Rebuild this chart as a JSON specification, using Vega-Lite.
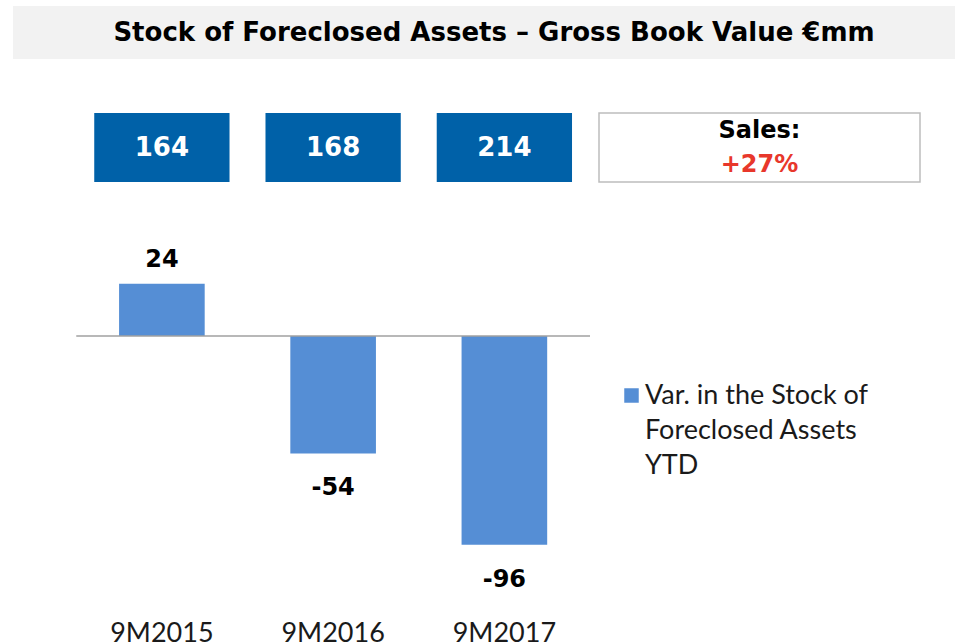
{
  "$schema": "https://vega.github.io/schema/vega-lite/v6.json",
  "padding": {"left": 13, "top": 6, "right": 0, "bottom": 0},
  "background": "white",
  "spacing": 53,
  "config": {
    "view": {"stroke": null},
    "font": "Lato",
    "style": {"guide-label": {"lineHeight": 35, "dy": -13}}
  },
  "datasets": {
    "stock": [
      {"period": "9M2015", "stock": 164, "variation": 24, "series": "Var. in the Stock of Foreclosed Assets YTD"},
      {"period": "9M2016", "stock": 168, "variation": -54, "series": "Var. in the Stock of Foreclosed Assets YTD"},
      {"period": "9M2017", "stock": 214, "variation": -96, "series": "Var. in the Stock of Foreclosed Assets YTD"}
    ]
  },
  "vconcat": [
    {
      "width": 942,
      "height": 53,
      "view": {"fill": "#f2f2f2", "stroke": null},
      "data": {"values": [{"title": "Stock of Foreclosed Assets – Gross Book Value €mm"}]},
      "mark": {"type": "text", "font": "DejaVu Sans", "fontWeight": "bold", "fontSize": 26, "color": "#000000", "dx": 10, "baseline": "middle"},
      "encoding": {"text": {"field": "title", "type": "nominal"}}
    },
    {
      "spacing": 8,
      "hconcat": [
        {
          "width": 577,
          "height": 69,
          "data": {"name": "stock"},
          "encoding": {
            "x": {
              "field": "period",
              "type": "nominal",
              "axis": null,
              "scale": {"paddingInner": 0, "paddingOuter": 0.1847, "align": 1}
            }
          },
          "layer": [
            {
              "mark": {"type": "bar", "color": "#0061a8", "width": {"band": 0.79}}
            },
            {
              "mark": {"type": "text", "color": "#ffffff", "font": "DejaVu Sans", "fontWeight": "bold", "fontSize": 26, "baseline": "middle"},
              "encoding": {"text": {"field": "stock", "type": "nominal"}}
            }
          ]
        },
        {
          "width": 321,
          "height": 69,
          "view": {"fill": "#ffffff", "stroke": "#bdbdbd", "strokeWidth": 1.5},
          "data": {"values": [{"label": "Sales:", "change": "+27%"}]},
          "layer": [
            {
              "mark": {"type": "text", "color": "#000000", "font": "DejaVu Sans", "fontWeight": "bold", "fontSize": 24, "dy": -17, "baseline": "middle"},
              "encoding": {"text": {"field": "label", "type": "nominal"}}
            },
            {
              "mark": {"type": "text", "color": "#e8372b", "font": "DejaVu Sans", "fontWeight": "bold", "fontSize": 24, "dy": 17, "baseline": "middle"},
              "encoding": {"text": {"field": "change", "type": "nominal"}}
            }
          ]
        }
      ]
    },
    {
      "width": 577,
      "height": 366,
      "data": {"name": "stock"},
      "layer": [
        {
          "mark": {"type": "bar", "width": {"band": 0.5}},
          "encoding": {
            "x": {
              "field": "period",
              "type": "nominal",
              "scale": {"paddingInner": 0, "paddingOuter": 0.1847, "align": 1},
              "axis": {
                "title": null,
                "labelAngle": 0,
                "ticks": false,
                "domain": false,
                "labelFontSize": 27,
                "labelFont": "Lato",
                "labelColor": "#1a1a1a",
                "labelPadding": 31
              }
            },
            "y": {
              "field": "variation",
              "type": "quantitative",
              "scale": {"domain": [-122.3, 46.0], "nice": false, "zero": false},
              "axis": null
            },
            "color": {
              "field": "series",
              "type": "nominal",
              "scale": {"range": ["#558ed5"]},
              "legend": {
                "orient": "none",
                "legendX": 605,
                "legendY": 376,
                "title": null,
                "padding": 0,
                "symbolType": "square",
                "symbolSize": 210,
                "symbolStrokeWidth": 0,
                "labelFontSize": 27,
                "labelFont": "Lato",
                "labelColor": "#1a1a1a",
                "labelOffset": 0,
                "labelLimit": 600,
                "labelBaseline": "top",
                "labelExpr": "[slice(datum.label, 0, 20), slice(datum.label, 21, 38), slice(datum.label, 39)]"
              }
            }
          }
        },
        {
          "data": {"values": [{"level": 0}]},
          "mark": {"type": "rule", "color": "#a0a0a0", "strokeWidth": 1.5},
          "encoding": {
            "x": {"datum": "9M2015", "type": "nominal", "bandPosition": 0},
            "x2": {"datum": "9M2017", "bandPosition": 1},
            "y": {"field": "level", "type": "quantitative"}
          }
        },
        {
          "transform": [{"filter": "datum.variation > 0"}],
          "mark": {"type": "text", "font": "DejaVu Sans", "fontWeight": "bold", "fontSize": 24, "color": "#000000", "baseline": "middle", "dy": -24},
          "encoding": {
            "x": {"field": "period", "type": "nominal"},
            "y": {"field": "variation", "type": "quantitative"},
            "text": {"field": "variation", "type": "nominal"}
          }
        },
        {
          "transform": [{"filter": "datum.variation < 0"}],
          "mark": {"type": "text", "font": "DejaVu Sans", "fontWeight": "bold", "fontSize": 24, "color": "#000000", "baseline": "middle", "dy": 35},
          "encoding": {
            "x": {"field": "period", "type": "nominal"},
            "y": {"field": "variation", "type": "quantitative"},
            "text": {"field": "variation", "type": "nominal"}
          }
        }
      ]
    }
  ]
}
